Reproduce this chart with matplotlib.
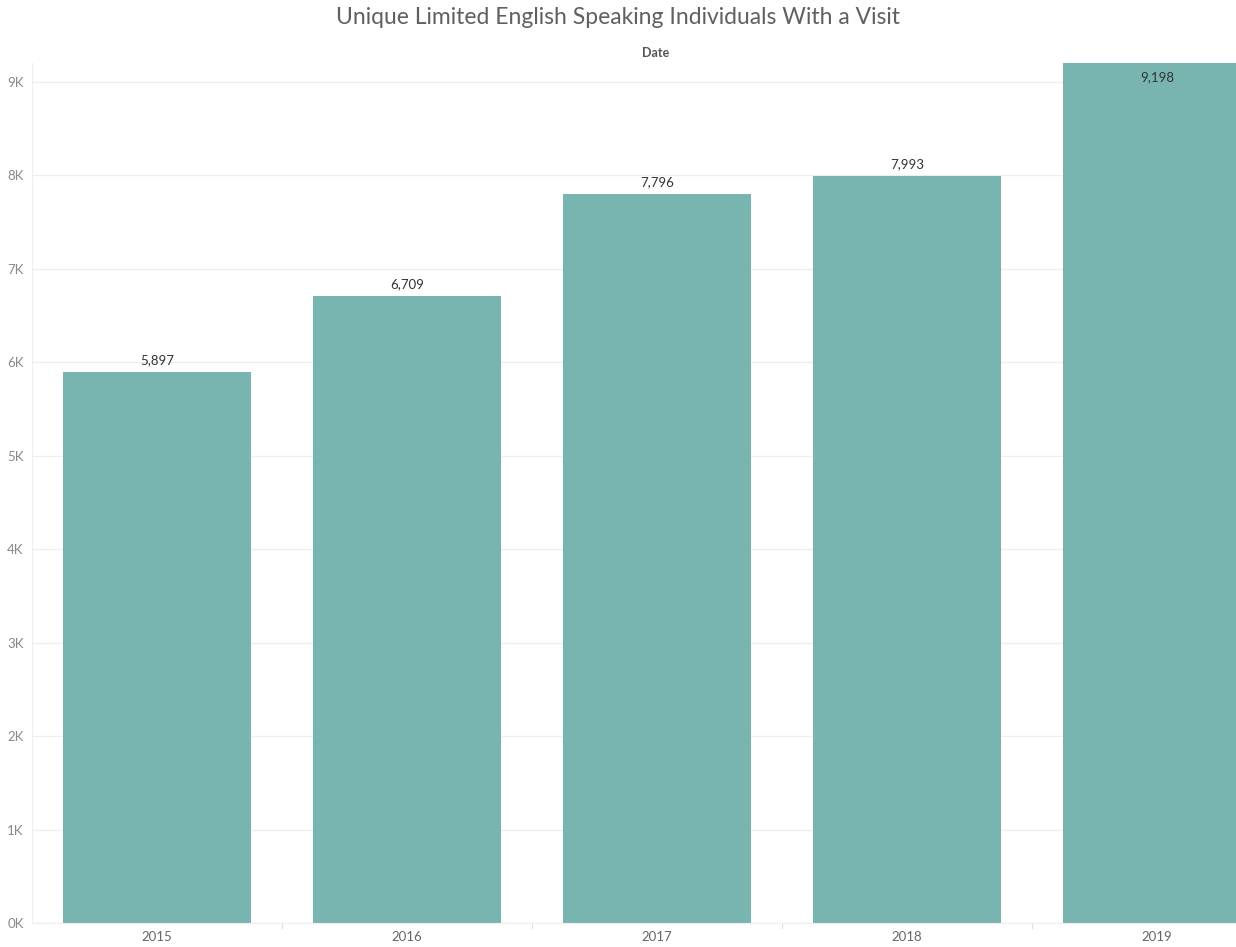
import matplotlib.pyplot as plt
from matplotlib.ticker import FuncFormatter, MultipleLocator

years = ['2015', '2016', '2017', '2018', '2019']
visits = [5897, 6709, 7796, 7993, 9198]

bar_colour = '#79b5b0'
grid_colour = '#eeeeee'

plt.rcParams['font.family'] = ['Lato', 'DejaVu Sans']

fig = plt.figure(figsize=(12.36, 9.47), dpi=100)
# axes run from the y axis at x=32px to past the right edge, the last bar is cut off
ax = fig.add_axes([32 / 1236, 24 / 947, 1250 / 1236, 860 / 947])

xs = range(len(years))
ax.bar(xs, visits, width=0.75, color=bar_colour, zorder=2)

ax.set_xlim(-0.5, len(years) - 0.5)
ax.set_ylim(0, max(visits))
ax.yaxis.set_major_locator(MultipleLocator(1000))
ax.yaxis.set_major_formatter(FuncFormatter(lambda v, p: '%dK' % round(v / 1000)))
ax.set_xticks(list(xs))
ax.set_xticklabels(years)
ax.tick_params(axis='y', length=0, labelsize=9.5, labelcolor='#888888', pad=6)
ax.tick_params(axis='x', length=0, labelsize=9.5, labelcolor='#666666', pad=6)

# small separators between the year columns
for i in range(len(years)):
    ax.plot([i + 0.5, i + 0.5], [0, -0.006], transform=ax.get_xaxis_transform(),
            color='#dddddd', lw=0.8, clip_on=False)

ax.grid(axis='y', color=grid_colour, lw=0.9, zorder=0)
for s in ['top', 'right']:
    ax.spines[s].set_visible(False)
ax.spines['left'].set_color('#eeeeee')
ax.spines['bottom'].set_color('#eeeeee')

# value labels, the tallest one sits inside its bar
for i, v in enumerate(visits):
    if v == max(visits):
        ax.text(i, v - 90, '{:,}'.format(v), ha='center', va='top', fontsize=9.5, color='#333333')
    else:
        ax.text(i, v + 60, '{:,}'.format(v), ha='center', va='bottom', fontsize=9.5, color='#333333')

fig.text(618 / 1236, 1 - 17 / 947, 'Unique Limited English Speaking Individuals With a Visit',
         ha='center', va='center', fontsize=16.5, color='#606060')
fig.text(656 / 1236, 1 - 53 / 947, 'Date', ha='center', va='center', fontsize=9,
         color='#555555', fontweight='bold')

fig.savefig('out.png', dpi=100)
